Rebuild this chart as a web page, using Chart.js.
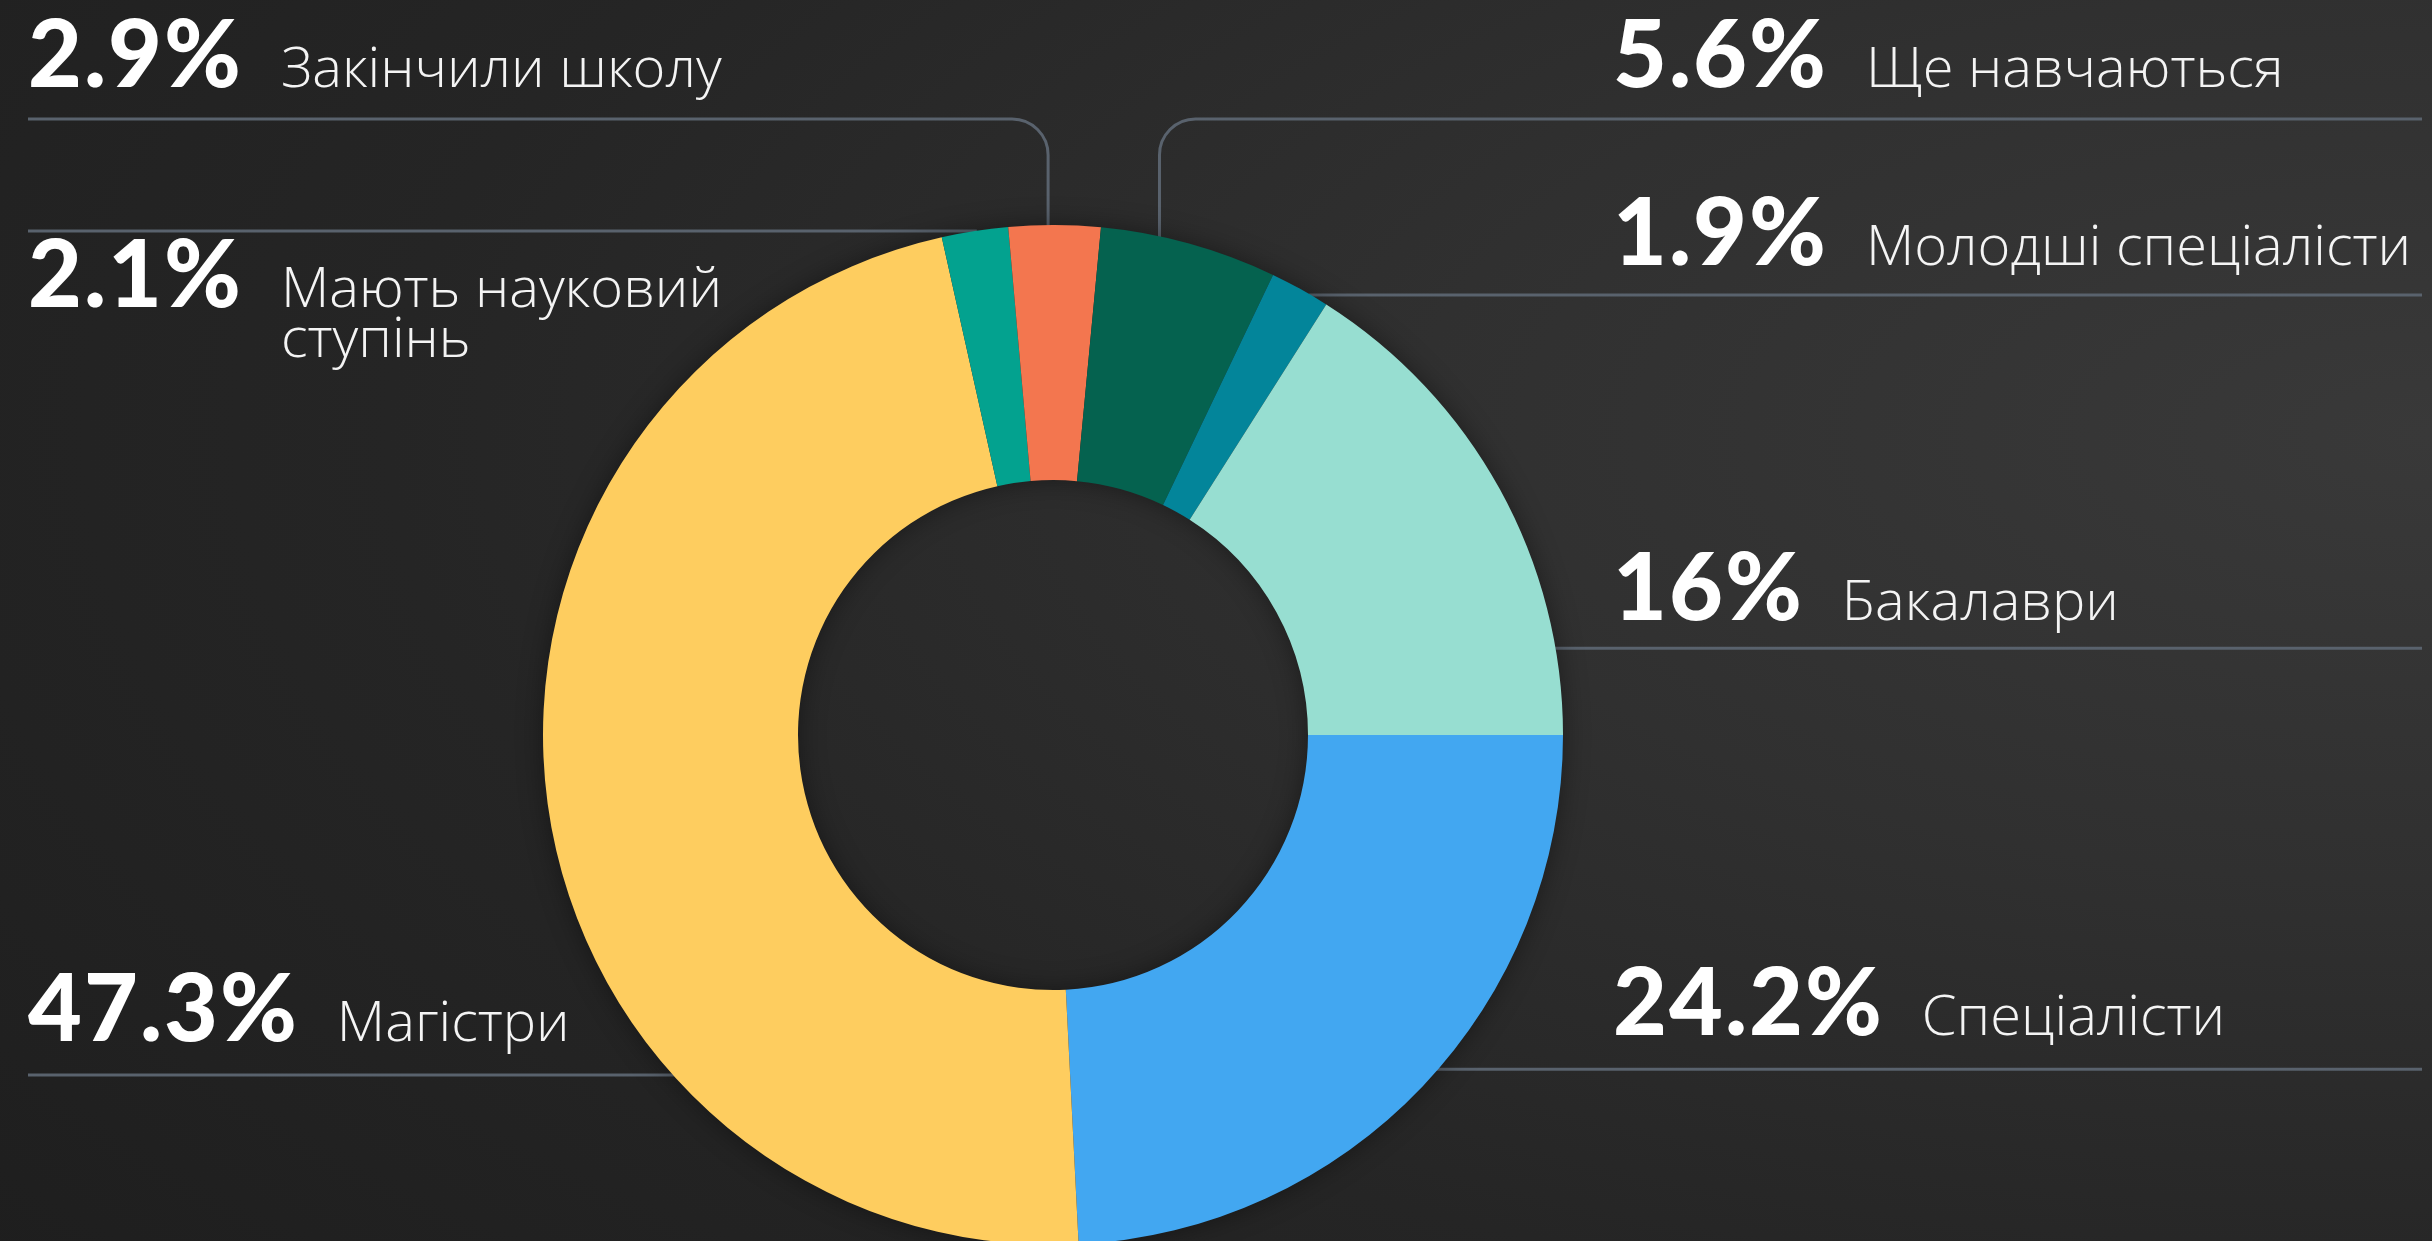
<!DOCTYPE html>
<html>
<head>
<meta charset="utf-8">
<script src="https://cdn.jsdelivr.net/npm/chart.js@4.4.1/dist/chart.umd.min.js"></script>
<style>
html,body{margin:0;padding:0;width:2432px;height:1241px;overflow:hidden;}
body{background:radial-gradient(ellipse 140% 120% at 100% 35%, #393939 0%, #303030 30%, #252525 60%, #1c1c1c 100%);}
#wrap{position:absolute;left:0;top:0;width:2432px;height:1260px;}
</style>
</head>
<body>
<div id="wrap"><canvas id="c"></canvas></div>
<script>
// ---- data ----
const categories = ['Спеціалісти','Магістри','Мають науковий ступінь','Закінчили школу','Ще навчаються','Молодші спеціалісти','Бакалаври'];
const shares = [24.2, 47.3, 2.1, 2.9, 5.6, 1.9, 16];
const percentLabels = ['24.2%','47.3%','2.1%','2.9%','5.6%','1.9%','16%'];
const descriptionLines = [['Спеціалісти'],['Магістри'],['Мають науковий','ступінь'],['Закінчили школу'],['Ще навчаються'],['Молодші спеціалісти'],['Бакалаври']];
const sliceColors = ['#42a7f1','#fecd5f','#03a28f','#f3764f','#05624f','#03859a','#97ded1'];

// ---- label layout (annotation placement only) ----
const labelLayout = [
  {side:'right', anchor:0.47, kind:'h', textDy:-34},
  {side:'left',  anchor:0.30, kind:'h', textDy:-34},
  {side:'left',  anchor:0.50, kind:'h', textDy:76, lineGap:50},
  {side:'left',  anchor:0.43, kind:'elbow', elbowY:119, textDy:-32},
  {side:'right', anchor:0.33, kind:'elbow', elbowY:119, textDy:-32},
  {side:'right', anchor:0.70, kind:'h', textDy:-30},
  {side:'right', anchor:0.83, kind:'h', textDy:-28}
];
const LEFT_X = 28, RIGHT_TEXT_X = 1613, RIGHT_END = 2422, CORNER = 36;
const PCT_FONT = '900 93px Lato', PCT_SPACING = '2px';
const DESC_FONT = '300 56px "Open Sans"', DESC_GAP = 38;
const LINE_COLOR = '#59626d';

function anchorPoint(chart, i){
  const arc = chart.getDatasetMeta(0).data[i];
  const a = arc.startAngle + labelLayout[i].anchor * (arc.endAngle - arc.startAngle);
  return {x: arc.x + arc.outerRadius * Math.cos(a), y: arc.y + arc.outerRadius * Math.sin(a)};
}

const leaderPlugin = {
  id:'leaders',
  beforeDatasetsDraw(chart){
    const ctx = chart.ctx;
    ctx.save();
    ctx.strokeStyle = LINE_COLOR;
    ctx.lineWidth = 3;
    ctx.lineCap = 'butt';
    labelLayout.forEach((L, i) => {
      const p = anchorPoint(chart, i);
      ctx.beginPath();
      if (L.kind === 'h') {
        if (L.side === 'left') { ctx.moveTo(LEFT_X, p.y); ctx.lineTo(p.x + 2, p.y); }
        else { ctx.moveTo(p.x - 2, p.y); ctx.lineTo(RIGHT_END, p.y); }
      } else {
        const y0 = L.elbowY;
        ctx.moveTo(L.side === 'left' ? LEFT_X : RIGHT_END, y0);
        ctx.arcTo(p.x, y0, p.x, y0 + CORNER, CORNER);
        ctx.lineTo(p.x, p.y + 4);
      }
      ctx.stroke();
    });
    // soft shadow under the ring
    const a0 = chart.getDatasetMeta(0).data[0];
    ctx.beginPath();
    ctx.arc(a0.x, a0.y, a0.outerRadius - 2, 0, Math.PI * 2);
    ctx.arc(a0.x, a0.y, a0.innerRadius + 2, 0, Math.PI * 2, true);
    ctx.shadowColor = 'rgba(0,0,0,0.45)';
    ctx.shadowBlur = 28;
    ctx.fillStyle = '#222';
    ctx.fill();
    ctx.restore();
  },
  afterDraw(chart){
    const ctx = chart.ctx;
    ctx.save();
    ctx.textBaseline = 'alphabetic';
    ctx.textAlign = 'left';
    labelLayout.forEach((L, i) => {
      const p = anchorPoint(chart, i);
      const lineY = L.kind === 'h' ? p.y : L.elbowY;
      const baseY = lineY + L.textDy;
      const x = L.side === 'left' ? LEFT_X : RIGHT_TEXT_X;
      ctx.font = PCT_FONT;
      ctx.letterSpacing = PCT_SPACING;
      ctx.fillStyle = '#ffffff';
      ctx.fillText(percentLabels[i], x, baseY);
      const w = ctx.measureText(percentLabels[i]).width;
      ctx.letterSpacing = '0px';
      ctx.font = DESC_FONT;
      ctx.fillStyle = '#f4f4f4';
      descriptionLines[i].forEach((t, k) => {
        ctx.fillText(t, x + w + DESC_GAP, baseY + k * (L.lineGap || 0));
      });
    });
    ctx.restore();
  }
};

new Chart(document.getElementById('c'), {
  type: 'doughnut',
  data: {
    labels: categories,
    datasets: [{
      data: shares,
      backgroundColor: sliceColors,
      borderWidth: 0,
      hoverOffset: 0,
      offset: 0
    }]
  },
  options: {
    responsive: true,
    maintainAspectRatio: false,
    animation: false,
    rotation: 90,
    cutout: '50%',
    layout: { padding: { left: 543, right: 869, top: 225, bottom: 15 } },
    plugins: { legend: { display: false }, tooltip: { enabled: false } }
  },
  plugins: [leaderPlugin]
});
</script>
</body>
</html>
